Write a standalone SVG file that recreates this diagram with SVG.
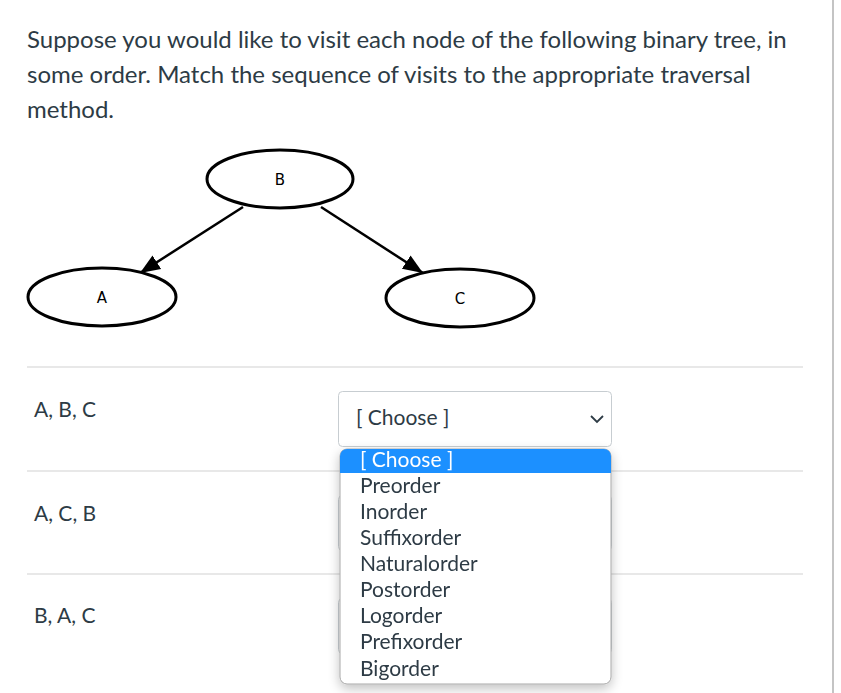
<svg xmlns="http://www.w3.org/2000/svg" width="841" height="693" viewBox="0 0 841 693">
<style>
.q{font-family:Lato,"Open Sans",sans-serif;font-size:24px;fill:#2d3b45}
.lbl{font-family:Lato,"Open Sans",sans-serif;font-size:21px;fill:#2d3b45}
.opt{font-family:Lato,"Open Sans",sans-serif;font-size:21px;fill:#2d3b45}
.nd{fill:#fff;stroke:#000;stroke-width:3}
.nt{font-family:"DejaVu Sans",sans-serif;font-size:15px;fill:#000;text-anchor:middle}
.edge{stroke:#000;stroke-width:2.5;fill:none}
.sep{stroke:#e0e0e0;stroke-width:1.5}
.sel{fill:#fff;stroke:#c7cdd1;stroke-width:1}
</style>
<defs>
<marker id="ah" viewBox="0 0 10 10" refX="10" refY="5" markerWidth="20" markerHeight="20" markerUnits="userSpaceOnUse" orient="auto">
<path d="M0,1 L10,5 L0,9 z" fill="#000"/>
</marker>
<filter id="sh" x="-20%" y="-20%" width="140%" height="140%">
<feGaussianBlur in="SourceAlpha" stdDeviation="6"/>
<feOffset dy="4"/>
<feComponentTransfer><feFuncA type="linear" slope="0.25"/></feComponentTransfer>
<feMerge><feMergeNode/><feMergeNode in="SourceGraphic"/></feMerge>
</filter>
</defs>
<rect width="841" height="693" fill="#fff"/>
<line x1="833" y1="0" x2="833" y2="693" stroke="#b0b0b0" stroke-width="1.5"/>
<g id="question">
<text class="q" x="27" y="48">Suppose you would like to visit each node of the following binary tree, in</text>
<text class="q" x="27" y="83">some order. Match the sequence of visits to the appropriate traversal</text>
<text class="q" x="27" y="118">method.</text>
</g>
<g id="connectors">
<line class="edge" x1="243" y1="207" x2="140" y2="273" marker-end="url(#ah)"/>
<line class="edge" x1="321" y1="207" x2="423" y2="273" marker-end="url(#ah)"/>
</g>
<g id="node-B">
<ellipse class="nd" cx="280" cy="179" rx="73" ry="29"/>
<text class="nt" x="280" y="185">B</text>
</g>
<g id="node-A">
<ellipse class="nd" cx="102" cy="297" rx="74" ry="29"/>
<text class="nt" x="102" y="303">A</text>
</g>
<g id="node-C">
<ellipse class="nd" cx="460" cy="298" rx="74" ry="29"/>
<text class="nt" x="460" y="304">C</text>
</g>
<g id="rows">
<line class="sep" x1="27" y1="367" x2="803" y2="367"/>
<line class="sep" x1="27" y1="471" x2="803" y2="471"/>
<line class="sep" x1="27" y1="574" x2="803" y2="574"/>
<text class="lbl" x="34" y="417">A, B, C</text>
<text class="lbl" x="34" y="521">A, C, B</text>
<text class="lbl" x="34" y="623">B, A, C</text>
</g>
<g id="select-1">
<rect class="sel" x="338.5" y="391.5" width="273" height="55" rx="4"/>
<text class="opt" x="356" y="425">[ Choose ]</text>
<path d="M591,416 L597,422 L603,416" fill="none" stroke="#2d3b45" stroke-width="1.8"/>
</g>
<g id="select-2">
<rect class="sel" x="338.5" y="495.5" width="273" height="55" rx="4"/>
</g>
<g id="select-3">
<rect class="sel" x="338.5" y="598.5" width="273" height="55" rx="4"/>
</g>
<g id="dropdown" filter="url(#sh)">
<rect x="340" y="449" width="271" height="235" rx="7" fill="#fff" stroke="#a8a8a8" stroke-width="1"/>
<path d="M347,449 H604 A7,7 0 0 1 611,456 V473 H340 V456 A7,7 0 0 1 347,449 z" fill="#1e90ff"/>
<text class="opt" x="360" y="467" style="fill:#fff">[ Choose ]</text>
<text class="opt" x="360" y="493">Preorder</text>
<text class="opt" x="360" y="519">Inorder</text>
<text class="opt" x="360" y="545">Suffixorder</text>
<text class="opt" x="360" y="571">Naturalorder</text>
<text class="opt" x="360" y="597">Postorder</text>
<text class="opt" x="360" y="623">Logorder</text>
<text class="opt" x="360" y="649">Prefixorder</text>
<text class="opt" x="360" y="676">Bigorder</text>
</g>
</svg>
